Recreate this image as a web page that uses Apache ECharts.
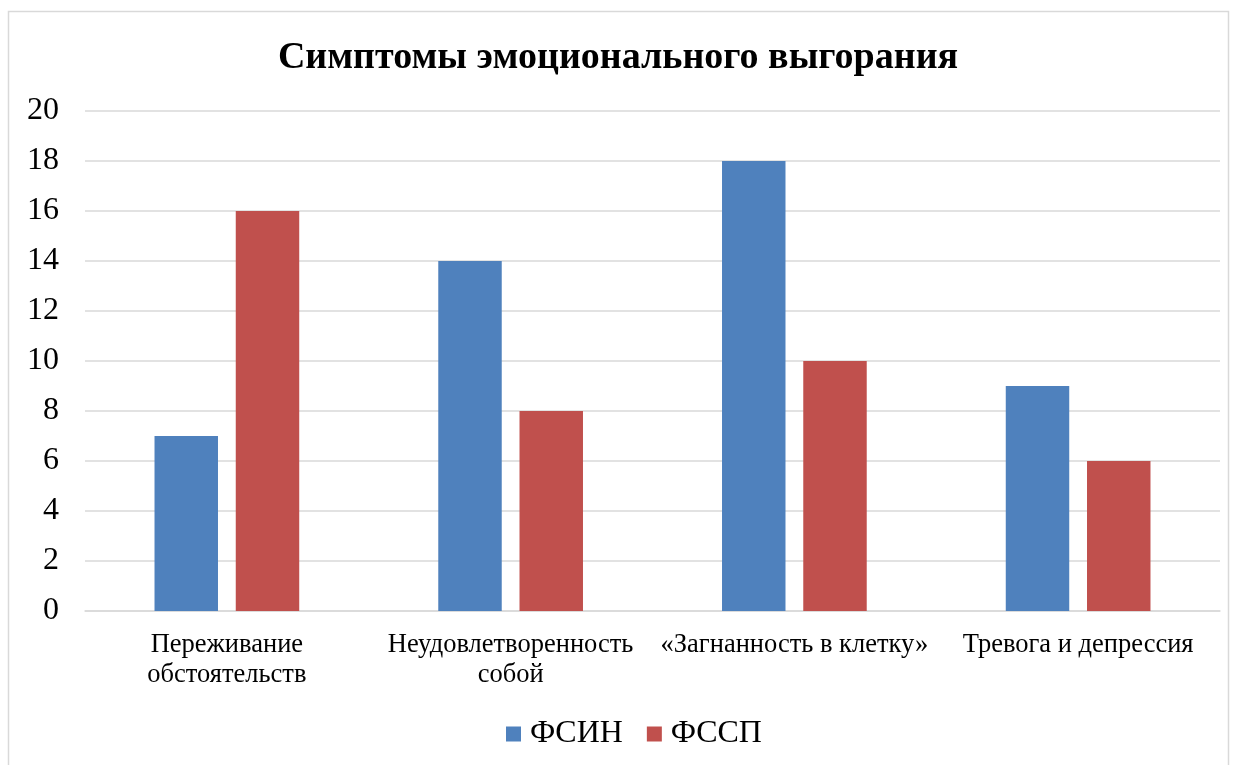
<!DOCTYPE html>
<html>
<head>
<meta charset="utf-8">
<script src="https://cdn.jsdelivr.net/npm/echarts@6/dist/echarts.min.js"></script>
<style>
  html, body { margin: 0; padding: 0; background: #fff; }
  #chart { width: 1236px; height: 765px; }
</style>
</head>
<body>
<div id="chart"></div>
<script>
var categories = [
    "Переживание\nобстоятельств",
    "Неудовлетворенность\nсобой",
    "«Загнанность в клетку»",
    "Тревога и депрессия"
];
var fsinData = [7, 14, 18, 9];
var fsspData = [16, 8, 10, 6];
var yTicks = [0, 2, 4, 6, 8, 10, 12, 14, 16, 18, 20];

var chartobj = echarts.init(document.getElementById("chart"));
var serif = "'Liberation Serif', 'Times New Roman', serif";
var option = {
    animation: false,
    textStyle: { fontFamily: serif },
    graphic: [
        {
            type: 'rect',
            shape: { x: 8.5, y: 11.5, width: 1220, height: 770 },
            style: { fill: 'none', stroke: '#d9d9d9', lineWidth: 1.5 },
            silent: true
        }
    ],
    title: {
        text: "Симптомы эмоционального выгорания",
        left: 'center',
        top: 34,
        textStyle: { fontFamily: serif, fontSize: 38, fontWeight: 'bold', color: '#000' }
    },
    legend: {
        bottom: 10,
        left: 501,
        itemWidth: 15,
        itemHeight: 15,
        itemGap: 24,
        icon: 'rect',
        textStyle: { fontFamily: serif, fontSize: 32, color: '#000', padding: [0, 0, 0, 4] },
        data: ["ФСИН", "ФССП"]
    },
    grid: { left: 85, right: 16, top: 111, bottom: 154 },
    xAxis: {
        type: 'category',
        data: categories,
        axisLine: { lineStyle: { color: '#d9d9d9', width: 1.5 } },
        axisTick: { show: false },
        axisLabel: {
            interval: 0,
            fontFamily: serif,
            fontSize: 26.5,
            color: '#000',
            lineHeight: 30,
            margin: 19
        }
    },
    yAxis: {
        type: 'value',
        min: yTicks[0],
        max: yTicks[yTicks.length - 1],
        interval: 2,
        axisLine: { show: false },
        axisTick: { show: false },
        splitLine: { lineStyle: { color: '#d9d9d9', width: 1.5 } },
        axisLabel: { fontFamily: serif, fontSize: 32, color: '#000', margin: 26 }
    },
    series: [
        {
            name: "ФСИН",
            type: 'bar',
            data: fsinData,
            itemStyle: { color: '#4F81BD' },
            barGap: '28%',
            barCategoryGap: '49%'
        },
        {
            name: "ФССП",
            type: 'bar',
            data: fsspData,
            itemStyle: { color: '#C0504D' },
            barGap: '28%',
            barCategoryGap: '49%'
        }
    ]
};
chartobj.setOption(option);
</script>
</body>
</html>
